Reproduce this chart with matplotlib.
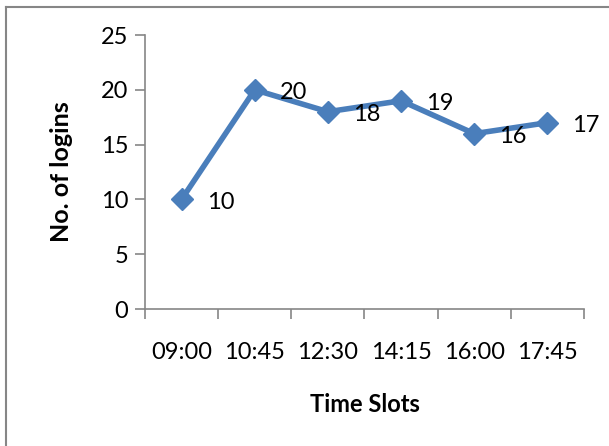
import matplotlib
matplotlib.use("Agg")
import matplotlib.pyplot as plt
from matplotlib.lines import Line2D

categories = ["09:00", "10:45", "12:30", "14:15", "16:00", "17:45"]
logins = [10, 20, 18, 19, 16, 17]
y_ticks = [0, 5, 10, 15, 20, 25]

plt.rcParams['font.family'] = ['Lato', 'DejaVu Sans']
FS = 17

fig = plt.figure(figsize=(6.09, 4.46), dpi=100)
ax = fig.add_axes([145/609, 1-309/446, (584-145)/609, (309-35)/446])

x = list(range(len(categories)))
ax.plot(x, logins, color='#4A7EBB', lw=4, marker='D', markersize=11,
        markerfacecolor='#4A7EBB', markeredgecolor='#4A7EBB', solid_joinstyle='round')
for xi, v in zip(x, logins):
    ax.annotate(str(v), (xi, v), xytext=(18, -2), textcoords='offset points',
                ha='left', va='center', fontsize=FS)

ax.set_xlim(-0.5, len(categories) - 0.5)
ax.set_ylim(0, 25)
ax.set_yticks(y_ticks)
ax.set_xticks(x)
ax.set_xticklabels(categories, fontsize=FS)
ax.tick_params(axis='x', length=0, pad=24)
ax.set_xticks([i - 0.5 for i in range(len(categories) + 1)], minor=True)
ax.tick_params(axis='x', which='minor', length=7, color='#868686', width=1.2, direction='out')
ax.tick_params(axis='y', length=7, color='#868686', width=1.2, labelsize=FS, pad=5)

for s in ['top', 'right']:
    ax.spines[s].set_visible(False)
for s in ['left', 'bottom']:
    ax.spines[s].set_color('#868686')
    ax.spines[s].set_linewidth(1.2)

ax.set_ylabel("No. of logins", fontsize=FS + 1, fontweight='bold', labelpad=20)
ax.set_xlabel("Time Slots", fontsize=FS, fontweight='bold', labelpad=21)

# outer chart frame (top and left edges visible)
fig.add_artist(Line2D([6/609, 6/609], [0, 1-7/446], transform=fig.transFigure, color='#868686', lw=1.5))
fig.add_artist(Line2D([6/609, 1], [1-7/446, 1-7/446], transform=fig.transFigure, color='#868686', lw=1.5))

fig.savefig("out.png", dpi=100)
